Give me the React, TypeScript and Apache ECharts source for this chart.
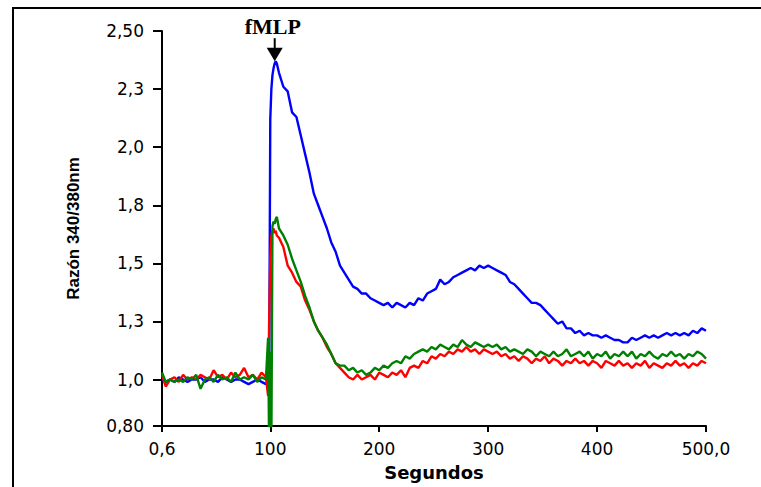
import { useEffect, useRef } from "react";
import * as echarts from "echarts";

// ---- tick labels ----
const X_TICKS = [0.6, 100, 200, 300, 400, 500];
const X_LABELS = ["0,6", "100", "200", "300", "400", "500,0"];
const Y_TICKS = [0.8, 1.0, 1.25, 1.5, 1.75, 2.0, 2.25, 2.5];
const Y_LABELS = ["0,80", "1,0", "1,3", "1,5", "1,8", "2,0", "2,3", "2,50"];

// ---- sample times (s) ----
const TIME_BASE = [0.6, 4, 8, 12, 16, 20, 24, 28, 32, 36, 40, 44, 48, 52, 56, 60, 64, 68, 72, 76, 80, 84, 88, 92, 96];
const TIME_JUMP = [98, 99, 100, 101, 102, 103, 104, 105, 106];
const TIME_TAIL = [
  108, 112, 116, 120, 124, 128, 132, 136, 140, 144,
  148, 152, 156, 160, 164, 168, 172, 176, 180, 184,
  188, 192, 196, 200, 204, 208, 212, 216, 220, 224,
  228, 232, 236, 240, 244, 248, 252, 256, 260, 264,
  268, 272, 276, 280, 284, 288, 292, 296, 300, 304,
  308, 312, 316, 320, 324, 328, 332, 336, 340, 344,
  348, 352, 356, 360, 364, 368, 372, 376, 380, 384,
  388, 392, 396, 400, 404, 408, 412, 416, 420, 424,
  428, 432, 436, 440, 444, 448, 452, 456, 460, 464,
  468, 472, 476, 480, 484, 488, 492, 496, 500,
];

// ---- blue ----
const BLUE_BASE = [1.0, 0.99, 1.0, 0.99, 1.01, 1.0, 0.99, 1.0, 1.0, 1.01, 0.99, 1.0, 1.0, 0.99, 1.01, 1.0, 0.99, 1.0, 1.0, 0.99, 0.98, 0.99, 1.0, 0.99, 0.98];
const BLUE_JUMP = [0.99, 1.02, 2.12, 2.25, 2.31, 2.34, 2.36, 2.37, 2.36];
const BLUE_TAIL = [
  2.32, 2.26, 2.24, 2.15, 2.13, 2.05, 1.97, 1.89, 1.8, 1.75,
  1.7, 1.65, 1.59, 1.55, 1.49, 1.46, 1.43, 1.4, 1.39, 1.37,
  1.37, 1.35, 1.34, 1.33, 1.32, 1.33, 1.31, 1.33, 1.32, 1.31,
  1.33, 1.32, 1.35, 1.34, 1.37, 1.38, 1.39, 1.43, 1.41, 1.42,
  1.44, 1.45, 1.46, 1.47, 1.48, 1.47, 1.49, 1.48, 1.49, 1.48,
  1.47, 1.46, 1.45, 1.42, 1.41, 1.39, 1.37, 1.35, 1.33, 1.33,
  1.32, 1.3, 1.28, 1.26, 1.24, 1.25, 1.22, 1.22, 1.2, 1.21,
  1.19, 1.2, 1.19, 1.19, 1.18, 1.19, 1.18, 1.17, 1.17, 1.16,
  1.16, 1.18, 1.17, 1.18, 1.19, 1.18, 1.19, 1.18, 1.19, 1.2,
  1.19, 1.2, 1.19, 1.2, 1.19, 1.21, 1.2, 1.22, 1.21,
];

// ---- red ----
const RED_BASE = [1.02, 0.97, 1.0, 1.01, 0.99, 1.02, 1.0, 1.01, 1.0, 1.02, 1.01, 1.0, 1.04, 1.01, 1.02, 1.0, 1.03, 1.01, 1.02, 1.05, 1.01, 1.02, 1.0, 1.03, 1.01];
const RED_JUMP = [0.93, 1.26, 1.52, 1.62, 1.64, 1.65, 1.63, 1.64, 1.62];
const RED_TAIL = [
  1.61, 1.57, 1.49, 1.46, 1.42, 1.4, 1.34, 1.3, 1.25, 1.21,
  1.18, 1.14, 1.11, 1.07, 1.05, 1.03, 1.01, 1.0, 1.02, 1.0,
  1.01, 1.02, 1.0, 1.03, 1.02, 1.01, 1.03, 1.02, 1.04, 1.01,
  1.05, 1.06, 1.05, 1.08, 1.07, 1.1, 1.09, 1.11, 1.1, 1.12,
  1.11, 1.13, 1.12, 1.14, 1.12, 1.13, 1.11, 1.13, 1.12, 1.11,
  1.12, 1.1, 1.11, 1.09, 1.1, 1.08, 1.1, 1.09, 1.07, 1.09,
  1.08, 1.1, 1.07, 1.09, 1.08, 1.06, 1.08, 1.07, 1.09, 1.07,
  1.08, 1.06, 1.08, 1.07, 1.05, 1.08, 1.07, 1.06, 1.08, 1.06,
  1.07, 1.05, 1.07, 1.06, 1.08, 1.05, 1.07, 1.06, 1.05, 1.07,
  1.06, 1.08, 1.06, 1.07, 1.05, 1.07, 1.06, 1.08, 1.07,
];

// ---- green ----
const GREEN_BASE = [1.03, 0.99, 1.0, 0.99, 1.0, 0.99, 1.01, 1.0, 1.02, 0.96, 1.0, 1.01, 0.99, 1.02, 1.0, 1.01, 0.99, 1.03, 1.0, 1.01, 1.0, 1.02, 0.99, 1.01, 1.0];
const GREEN_JUMP = [1.18, 0.7, 1.12, 0.72, 1.66, 1.68, 1.67, 1.69, 1.7];
const GREEN_TAIL = [
  1.65, 1.62, 1.58, 1.52, 1.47, 1.42, 1.36, 1.31, 1.25, 1.21,
  1.18, 1.15, 1.11, 1.07, 1.06, 1.06, 1.04, 1.05, 1.03, 1.04,
  1.02, 1.03, 1.05, 1.04, 1.06, 1.05, 1.07, 1.08, 1.07, 1.1,
  1.09, 1.11, 1.12, 1.13, 1.12, 1.14, 1.13, 1.15, 1.14, 1.13,
  1.15, 1.14, 1.17, 1.15, 1.14, 1.16, 1.15, 1.14, 1.15, 1.14,
  1.15, 1.13, 1.14, 1.12, 1.13, 1.12, 1.11, 1.13, 1.12, 1.1,
  1.12, 1.11, 1.1, 1.12, 1.1, 1.11, 1.13, 1.1, 1.11, 1.12,
  1.1, 1.12, 1.09, 1.11, 1.1, 1.12, 1.09, 1.11, 1.1, 1.12,
  1.1, 1.12, 1.09, 1.11, 1.1, 1.12, 1.1, 1.09, 1.11, 1.1,
  1.12, 1.1, 1.11, 1.09, 1.11, 1.1, 1.12, 1.11, 1.09,
];

const TIMES = [...TIME_BASE, ...TIME_JUMP, ...TIME_TAIL];
const BLUE = [...BLUE_BASE, ...BLUE_JUMP, ...BLUE_TAIL];
const RED = [...RED_BASE, ...RED_JUMP, ...RED_TAIL];
const GREEN = [...GREEN_BASE, ...GREEN_JUMP, ...GREEN_TAIL];

const pairs = (vals: number[]) =>
  TIMES.map((t, i) => [t, vals[i]]).filter((p) => p[1] !== undefined);

const lookup = (ticks: number[], labels: string[]) => (v: number) => {
  const i = ticks.findIndex((t) => Math.abs(t - v) < 1e-6);
  return i >= 0 ? labels[i] : "";
};

export default function App() {
  const ref = useRef<HTMLDivElement>(null);

  useEffect(() => {
    if (!ref.current) return;
    const chart = echarts.init(ref.current, undefined, { renderer: "svg" });
    const black = "#000";
    const lw = 2.4;
    chart.setOption({
      animation: false,
      backgroundColor: "#ffffff",
      grid: { left: 162, top: 31, right: 55, bottom: 61, containLabel: false, outerBoundsMode: "none" },
      xAxis: {
        type: "value",
        min: 0.6,
        max: 500,
        name: "Segundos",
        nameLocation: "middle",
        nameGap: 37,
        nameTextStyle: { fontFamily: "DejaVu Sans", fontWeight: "bold", fontSize: 18, color: black },
        axisLine: { show: true, onZero: false, lineStyle: { color: black, width: 2 } },
        axisTick: { show: true, customValues: X_TICKS, length: 6, lineStyle: { color: black, width: 2 } },
        axisLabel: {
          customValues: X_TICKS,
          formatter: lookup(X_TICKS, X_LABELS),
          color: black,
          fontFamily: "DejaVu Sans",
          fontSize: 17,
          margin: 14,
        },
        splitLine: { show: false },
      },
      yAxis: {
        type: "value",
        min: 0.8,
        max: 2.5,
        name: "Razón 340/380nm",
        nameLocation: "middle",
        nameRotate: 90,
        nameGap: 80,
        nameTextStyle: { fontFamily: "Liberation Sans", fontWeight: "bold", fontSize: 17, color: black },
        axisLine: { show: true, onZero: false, lineStyle: { color: black, width: 2 } },
        axisTick: { show: true, customValues: Y_TICKS, length: 9, lineStyle: { color: black, width: 2 } },
        axisLabel: {
          customValues: Y_TICKS,
          formatter: lookup(Y_TICKS, Y_LABELS),
          color: black,
          fontFamily: "DejaVu Sans",
          fontSize: 17,
          margin: 18,
        },
        splitLine: { show: false },
      },
      series: [
        { name: "Curva azul", type: "line", data: pairs(BLUE), showSymbol: false, clip: true, lineStyle: { color: "#0000ff", width: lw }, itemStyle: { color: "#0000ff" } },
        { name: "Curva roja", type: "line", data: pairs(RED), showSymbol: false, clip: true, lineStyle: { color: "#ff0000", width: lw }, itemStyle: { color: "#ff0000" } },
        { name: "Curva verde", type: "line", data: pairs(GREEN), showSymbol: false, clip: true, lineStyle: { color: "#008000", width: lw }, itemStyle: { color: "#008000" } },
      ],
    });

    // Arrow annotation pointing at the blue peak
    let pk = 0;
    BLUE.forEach((v, i) => {
      if (v > BLUE[pk]) pk = i;
    });
    const [px0, py] = chart.convertToPixel({ gridIndex: 0 }, [TIMES[pk], BLUE[pk]]) as number[];
    const px = px0 - 1;
    chart.setOption({
      graphic: [
        { type: "line", shape: { x1: 12, y1: 8, x2: 761, y2: 8 }, style: { stroke: black, lineWidth: 2 } },
        { type: "line", shape: { x1: 13, y1: 7, x2: 13, y2: 487 }, style: { stroke: black, lineWidth: 2 } },
        { type: "line", shape: { x1: px, y1: py - 23, x2: px, y2: py - 12 }, style: { stroke: black, lineWidth: 2 } },
        {
          type: "polygon",
          shape: { points: [[px - 8, py - 13.5], [px + 8, py - 13.5], [px, py]] },
          style: { fill: black },
        },
        {
          type: "text",
          x: px - 2,
          y: py - 24,
          style: {
            text: "fMLP",
            fill: black,
            font: "bold 22px 'Liberation Serif', 'Times New Roman', serif",
            align: "center",
            verticalAlign: "bottom",
          },
        },
      ],
    });

    return () => chart.dispose();
  }, []);

  return (
    <div
      ref={ref}
      style={{ position: "absolute", left: 0, top: 0, width: 761, height: 487, background: "#fff" }}
    />
  );
}
